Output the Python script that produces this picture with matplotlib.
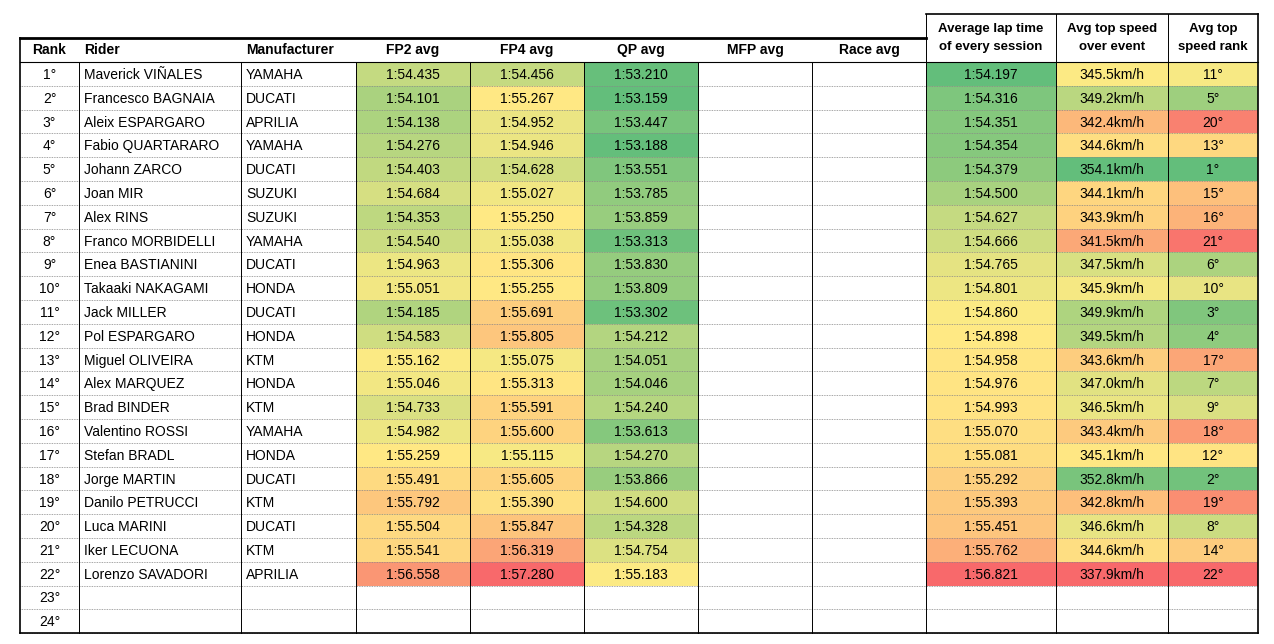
import numpy as np
import matplotlib.pyplot as plt
from matplotlib.colors import LinearSegmentedColormap
from matplotlib.patches import Rectangle

riders = ["Maverick VIÑALES", "Francesco BAGNAIA", "Aleix ESPARGARO", "Fabio QUARTARARO",
          "Johann ZARCO", "Joan MIR", "Alex RINS", "Franco MORBIDELLI", "Enea BASTIANINI",
          "Takaaki NAKAGAMI", "Jack MILLER", "Pol ESPARGARO", "Miguel OLIVEIRA", "Alex MARQUEZ",
          "Brad BINDER", "Valentino ROSSI", "Stefan BRADL", "Jorge MARTIN", "Danilo PETRUCCI",
          "Luca MARINI", "Iker LECUONA", "Lorenzo SAVADORI"]
makers = ["YAMAHA", "DUCATI", "APRILIA", "YAMAHA", "DUCATI", "SUZUKI", "SUZUKI", "YAMAHA",
          "DUCATI", "HONDA", "DUCATI", "HONDA", "KTM", "HONDA", "KTM", "YAMAHA", "HONDA",
          "DUCATI", "KTM", "DUCATI", "KTM", "APRILIA"]
fp2 = [54.435, 54.101, 54.138, 54.276, 54.403, 54.684, 54.353, 54.540, 54.963, 55.051, 54.185,
       54.583, 55.162, 55.046, 54.733, 54.982, 55.259, 55.491, 55.792, 55.504, 55.541, 56.558]
fp4 = [54.456, 55.267, 54.952, 54.946, 54.628, 55.027, 55.250, 55.038, 55.306, 55.255, 55.691,
       55.805, 55.075, 55.313, 55.591, 55.600, 55.115, 55.605, 55.390, 55.847, 56.319, 57.280]
qp = [53.210, 53.159, 53.447, 53.188, 53.551, 53.785, 53.859, 53.313, 53.830, 53.809, 53.302,
      54.212, 54.051, 54.046, 54.240, 53.613, 54.270, 53.866, 54.600, 54.328, 54.754, 55.183]
avg_lap = [54.197, 54.316, 54.351, 54.354, 54.379, 54.500, 54.627, 54.666, 54.765, 54.801,
           54.860, 54.898, 54.958, 54.976, 54.993, 55.070, 55.081, 55.292, 55.393, 55.451,
           55.762, 56.821]
top_speed = [345.5, 349.2, 342.4, 344.6, 354.1, 344.1, 343.9, 341.5, 347.5, 345.9, 349.9,
             349.5, 343.6, 347.0, 346.5, 343.4, 345.1, 352.8, 342.8, 346.6, 344.6, 337.9]
speed_rank = [11, 5, 20, 13, 1, 15, 16, 21, 6, 10, 3, 4, 17, 7, 9, 18, 12, 2, 19, 8, 14, 22]
n_rows = 24

headers = ["Rank", "Rider", "Manufacturer", "FP2 avg", "FP4 avg", "QP avg", "MFP avg",
           "Race avg", "Average lap time\nof every session", "Avg top speed\nover event",
           "Avg top\nspeed rank"]
xs = [20, 79, 241, 356, 470, 584, 698, 812, 926, 1056, 1168, 1258]
y_head, y_top, y0, rh = 14, 38, 62, 23.8

cmap = LinearSegmentedColormap.from_list("gyr", ["#63BE7B", "#FFEB84", "#F8696B"])


def scale_colors(vals, lo, mid, hi):
    v = np.asarray(vals, float)
    t = np.where(v <= mid, 0.5 * (v - lo) / (mid - lo), 0.5 + 0.5 * (v - mid) / (hi - mid))
    return [cmap(x) for x in t]


def lap(s):
    return f"1:{s:06.3f}"


sess = np.array(fp2 + fp4 + qp)
sess_args = (sess.min(), (sess.min() + sess.max()) / 2, sess.max())
neg_speed = [-s for s in top_speed]
fills = {3: scale_colors(fp2, *sess_args), 4: scale_colors(fp4, *sess_args),
         5: scale_colors(qp, *sess_args),
         8: scale_colors(avg_lap, min(avg_lap), np.median(avg_lap), max(avg_lap)),
         9: scale_colors(neg_speed, min(neg_speed), np.median(neg_speed), max(neg_speed)),
         10: scale_colors(speed_rank, 1, np.median(speed_rank), 22)}

fig = plt.figure(figsize=(12.74, 6.44), dpi=100)
ax = fig.add_axes([0, 0, 1, 1])
ax.set_xlim(0, 1274)
ax.set_ylim(644, 0)
ax.axis("off")
plt.rcParams['font.family'] = ['Liberation Sans', 'DejaVu Sans']
fs = 10

y_bot = y0 + n_rows * rh
for i in range(n_rows):
    y = y0 + i * rh
    cells = {0: f"{i + 1}°"}
    if i < len(riders):
        cells.update({1: riders[i], 2: makers[i], 3: lap(fp2[i]), 4: lap(fp4[i]), 5: lap(qp[i]),
                      8: lap(avg_lap[i]), 9: f"{top_speed[i]:.1f}km/h", 10: f"{speed_rank[i]}°"})
        for c, cols in fills.items():
            ax.add_patch(Rectangle((xs[c], y), xs[c + 1] - xs[c], rh, color=cols[i], lw=0))
    for c, txt in cells.items():
        yc = y + rh / 2 + 1
        if c in (1, 2):
            ax.text(xs[c] + 5, yc, txt, ha="left", va="center", fontsize=fs)
        else:
            ax.text((xs[c] + xs[c + 1]) / 2, yc, txt, ha="center", va="center", fontsize=fs)
    ax.plot([xs[0], xs[-1]], [y + rh, y + rh], color="#888888", lw=0.6, ls=(0, (1, 1)))

for c, h in enumerate(headers):
    if c in (1, 2):
        ax.text(xs[c] + 5, 50, h, ha="left", va="center", fontsize=fs, fontweight="bold")
    else:
        ax.text((xs[c] + xs[c + 1]) / 2, 38 if c >= 8 else 50, h, ha="center", va="center",
                fontsize=9.5 if c >= 8 else fs, fontweight="bold", linespacing=1.6)

# grid lines
for j, x in enumerate(xs):
    top = y_head if j >= 8 else y0
    if j == 0:
        top = y_top
    ax.plot([x, x], [top, y_bot], color="black", lw=1.2 if j in (0, 11) else 0.7)
ax.plot([xs[0], xs[8]], [y_top, y_top], color="black", lw=2)
ax.plot([xs[8], xs[-1]], [y_head, y_head], color="black", lw=1.2)
ax.plot([xs[0], xs[-1]], [y0, y0], color="black", lw=0.8)
ax.plot([xs[0], xs[-1]], [y_bot, y_bot], color="black", lw=1.2)

fig.savefig("out.png", dpi=100)
